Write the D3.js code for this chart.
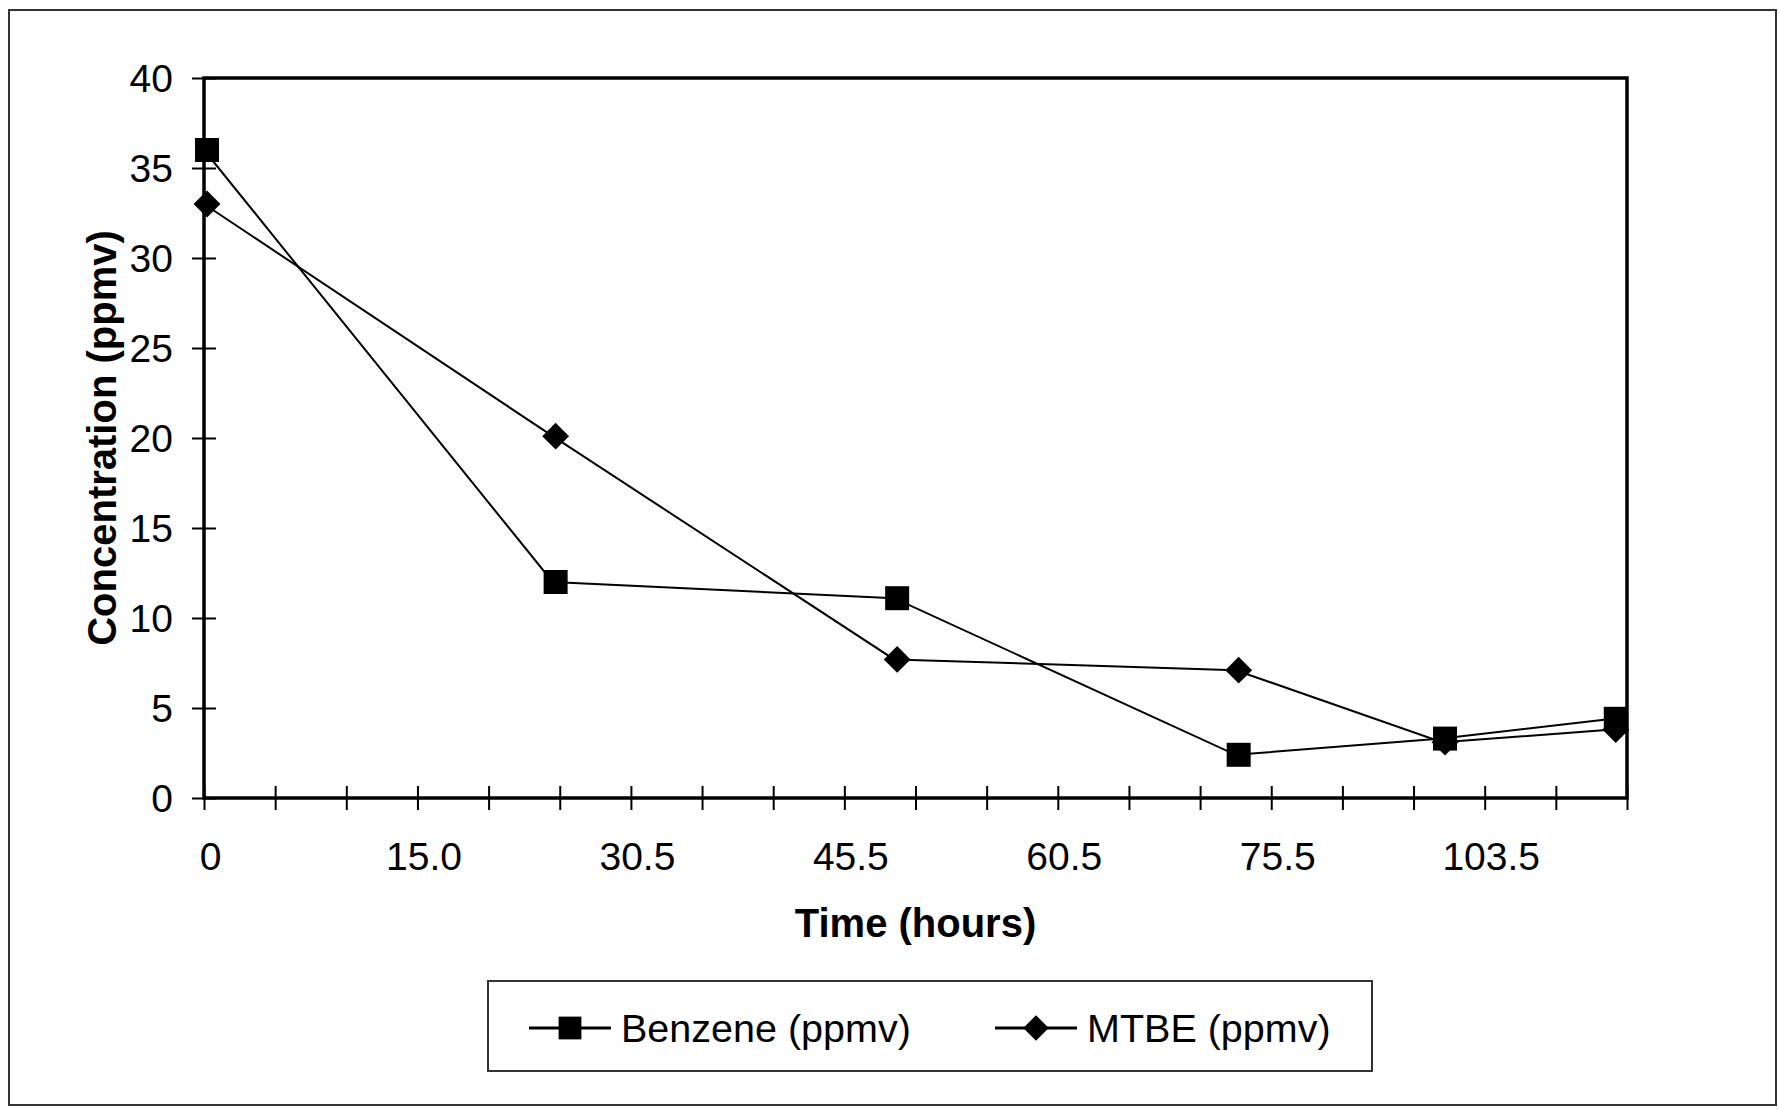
<!DOCTYPE html>
<html>
<head>
<meta charset="utf-8">
<script src="https://cdn.jsdelivr.net/npm/d3@7"></script>
<style>
  body { margin: 0; background: #fff; }
  text { font-family: Arial, "Liberation Sans", sans-serif; fill: #000; }
</style>
</head>
<body>
<div class="visHolder"></div>
<script>
// tick labels along the time axis, and which tick slot each sits on
const timeLabels = ["0", "15.0", "30.5", "45.5", "60.5", "75.5", "103.5"];
const labelSlots = [0, 3, 6, 9, 12, 15, 18];
// where each sample falls along the axis (in tick slots, 20 slots total)
const sampleSlots = [0, 4.9, 9.7, 14.5, 17.4, 19.8];
const benzene = [36, 12, 11.1, 2.4, 3.3, 4.4];
const mtbe = [33, 20.1, 7.7, 7.1, 3.1, 3.8];
const concTicks = [0, 5, 10, 15, 20, 25, 30, 35, 40];

const W = 1779, H = 1109;
const plotL = 204, plotT = 78, plotR = 1627, plotB = 798;

const svg = d3.select('.visHolder')
  .append('svg')
  .attr('width', W)
  .attr('height', H);

// outer frame
svg.append('rect')
  .attr('x', 9).attr('y', 10)
  .attr('width', 1767).attr('height', 1095)
  .attr('fill', 'none')
  .attr('stroke', '#333')
  .attr('stroke-width', 2);

const xScale = d3.scaleLinear().domain([0, 20]).range([plotL, plotR]);
const yScale = d3.scaleLinear().domain([0, 40]).range([plotB, plotT]);

// x axis (ticks cross the axis line)
const xAxis = d3.axisBottom(xScale)
  .tickValues(d3.range(0, 21))
  .tickFormat(d => {
    const k = labelSlots.indexOf(d);
    return k >= 0 ? timeLabels[k] : "";
  });

const xg = svg.append('g')
  .attr('transform', `translate(0, ${plotB})`)
  .call(xAxis);
xg.select('.domain').remove();
xg.selectAll('.tick line')
  .attr('y1', -12).attr('y2', 12)
  .attr('stroke', '#000').attr('stroke-width', 2);
xg.selectAll('.tick text')
  .attr('x', 6).attr('y', 72).attr('dy', 0)
  .style('font-size', '39px')
  .attr('fill', '#000');

// y axis
const yAxis = d3.axisLeft(yScale).tickValues(concTicks).tickFormat(d3.format('d'));
const yg = svg.append('g')
  .attr('transform', `translate(${plotL}, 0)`)
  .call(yAxis);
yg.select('.domain').remove();
yg.selectAll('.tick line')
  .attr('x1', -12).attr('x2', 12)
  .attr('stroke', '#000').attr('stroke-width', 2);
yg.selectAll('.tick text')
  .attr('x', -31).attr('dy', '0.35em')
  .style('font-size', '39px')
  .attr('fill', '#000');

// plot frame
svg.append('rect')
  .attr('x', plotL).attr('y', plotT)
  .attr('width', plotR - plotL).attr('height', plotB - plotT)
  .attr('fill', 'none')
  .attr('stroke', '#000')
  .attr('stroke-width', 3.5);

// axis titles
svg.append('text')
  .attr('x', (plotL + plotR) / 2).attr('y', 937)
  .attr('text-anchor', 'middle')
  .style('font-size', '40px').style('font-weight', 'bold')
  .text('Time (hours)');

svg.append('text')
  .attr('transform', `translate(116, ${(plotT + plotB) / 2}) rotate(-90)`)
  .attr('text-anchor', 'middle')
  .style('font-size', '40px').style('font-weight', 'bold')
  .text('Concentration (ppmv)');

// series
const lineFor = vals => d3.line()
  .x((d, i) => xScale(sampleSlots[i]))
  .y(d => yScale(d))(vals);

const square = d3.symbol(d3.symbolSquare, 576);
const diamond = d3.symbol(d3.symbolSquare, 360);

svg.append('path')
  .attr('d', lineFor(benzene))
  .attr('fill', 'none').attr('stroke', '#000').attr('stroke-width', 2);
svg.append('path')
  .attr('d', lineFor(mtbe))
  .attr('fill', 'none').attr('stroke', '#000').attr('stroke-width', 2);

svg.selectAll('.mtbe')
  .data(mtbe)
  .enter()
  .append('path')
  .attr('class', 'mtbe')
  .attr('d', diamond)
  .attr('transform', (d, i) => `translate(${xScale(sampleSlots[i]) + 3}, ${yScale(d)}) rotate(45)`)
  .attr('fill', '#000');

svg.selectAll('.benz')
  .data(benzene)
  .enter()
  .append('path')
  .attr('class', 'benz')
  .attr('d', square)
  .attr('transform', (d, i) => `translate(${xScale(sampleSlots[i]) + 3}, ${yScale(d)})`)
  .attr('fill', '#000');

// legend
const legend = svg.append('g');
legend.append('rect')
  .attr('x', 488).attr('y', 981)
  .attr('width', 884).attr('height', 90)
  .attr('fill', '#fff')
  .attr('stroke', '#333').attr('stroke-width', 2);

const legendItems = [
  { name: 'Benzene (ppmv)', sym: square, rot: 0, x0: 529 },
  { name: 'MTBE (ppmv)', sym: diamond, rot: 45, x0: 995 }
];
legendItems.forEach(it => {
  legend.append('line')
    .attr('x1', it.x0).attr('x2', it.x0 + 82)
    .attr('y1', 1028).attr('y2', 1028)
    .attr('stroke', '#000').attr('stroke-width', 3);
  legend.append('path')
    .attr('d', it.sym)
    .attr('transform', `translate(${it.x0 + 41}, 1028) rotate(${it.rot}) scale(0.95)`)
    .attr('fill', '#000');
  legend.append('text')
    .attr('x', it.x0 + 92).attr('y', 1042)
    .style('font-size', '39.5px')
    .text(it.name);
});
</script>
</body>
</html>
